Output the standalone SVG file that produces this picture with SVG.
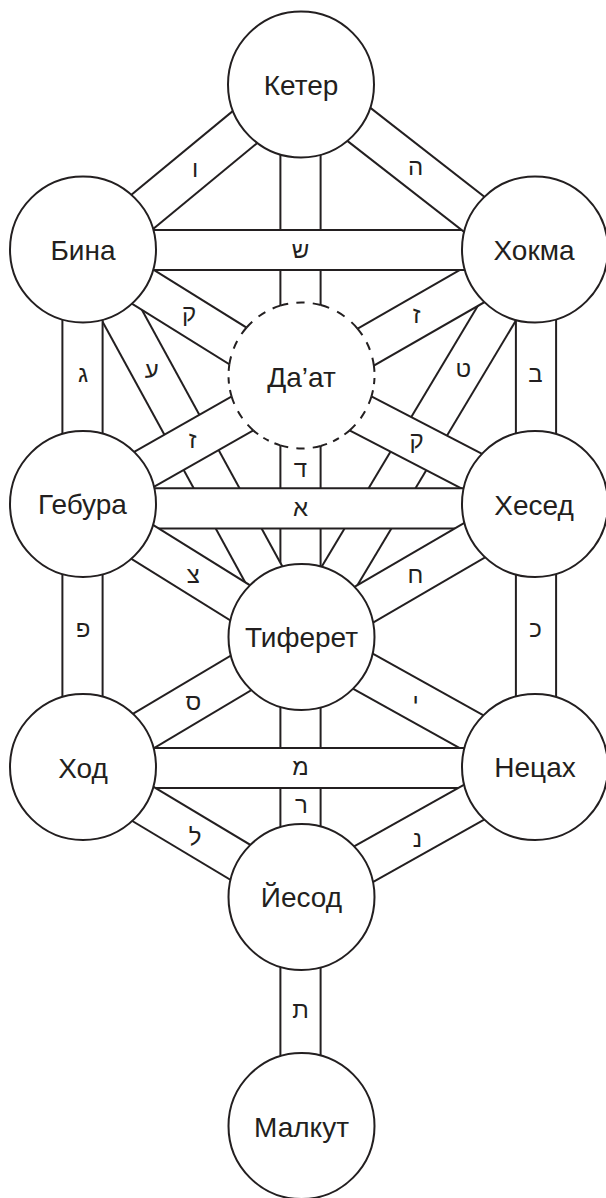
<svg xmlns="http://www.w3.org/2000/svg" width="606" height="1198" viewBox="0 0 606 1198">
<style>
.o{stroke:#231f20;stroke-width:42.2;fill:none}
.i{stroke:#ffffff;stroke-width:38.2;fill:none}
.node{fill:#ffffff;stroke:#231f20;stroke-width:2}
.nt{font-family:"Liberation Sans","DejaVu Sans",Arial,sans-serif;font-size:28px;fill:#231f20;text-anchor:middle}
.lt{font-family:"Liberation Sans","DejaVu Sans",Arial,sans-serif;font-size:24px;fill:#231f20;text-anchor:middle}
.dash{fill:none;stroke:#231f20;stroke-width:2;stroke-dasharray:1 1}
</style>
<rect width="606" height="1198" fill="#ffffff"/>
<g id="connectors">
  <g id="c-keter-tiferet"><line class="o" x1="300.5" y1="84" x2="300.5" y2="637"/><line class="i" x1="300.5" y1="84" x2="300.5" y2="637"/></g>
  <g id="c-bina-tiferet"><line class="o" x1="86" y1="249.5" x2="298" y2="637"/><line class="i" x1="86" y1="249.5" x2="298" y2="637"/></g>
  <g id="c-hokhma-tiferet"><line class="o" x1="535" y1="249.5" x2="303" y2="637"/><line class="i" x1="535" y1="249.5" x2="303" y2="637"/></g>
  <g id="c-bina-daat"><line class="o" x1="83" y1="249.5" x2="301.5" y2="385.5"/><line class="i" x1="83" y1="249.5" x2="301.5" y2="385.5"/></g>
  <g id="c-hokhma-daat"><line class="o" x1="535" y1="250" x2="301.5" y2="384"/><line class="i" x1="535" y1="250" x2="301.5" y2="384"/></g>
  <g id="c-geburah-daat"><line class="o" x1="83" y1="504" x2="301.5" y2="379.8"/><line class="i" x1="83" y1="504" x2="301.5" y2="379.8"/></g>
  <g id="c-chesed-daat"><line class="o" x1="535" y1="504" x2="301.5" y2="382.7"/><line class="i" x1="535" y1="504" x2="301.5" y2="382.7"/></g>
  <g id="c-bina-hokhma"><line class="o" x1="83" y1="250" x2="535" y2="250"/><line class="i" x1="83" y1="250" x2="535" y2="250"/></g>
  <g id="c-geburah-chesed"><line class="o" x1="83" y1="508.3" x2="535" y2="508.3"/><line class="i" x1="83" y1="508.3" x2="535" y2="508.3"/></g>
  <g id="c-geburah-tiferet"><line class="o" x1="83" y1="505" x2="301.5" y2="641"/><line class="i" x1="83" y1="505" x2="301.5" y2="641"/></g>
  <g id="c-chesed-tiferet"><line class="o" x1="535" y1="505" x2="301.5" y2="641"/><line class="i" x1="535" y1="505" x2="301.5" y2="641"/></g>
  <g id="c-bina-geburah"><line class="o" x1="82.5" y1="249.5" x2="82.5" y2="504"/><line class="i" x1="82.5" y1="249.5" x2="82.5" y2="504"/></g>
  <g id="c-hokhma-chesed"><line class="o" x1="536" y1="249.5" x2="536" y2="504"/><line class="i" x1="536" y1="249.5" x2="536" y2="504"/></g>
  <g id="c-geburah-hod"><line class="o" x1="82.5" y1="504" x2="82.5" y2="767"/><line class="i" x1="82.5" y1="504" x2="82.5" y2="767"/></g>
  <g id="c-chesed-netzach"><line class="o" x1="536" y1="504" x2="536" y2="767"/><line class="i" x1="536" y1="504" x2="536" y2="767"/></g>
  <g id="c-keter-bina"><line class="o" x1="100" y1="246.8" x2="285" y2="94"/><line class="i" x1="100" y1="246.8" x2="285" y2="94"/></g>
  <g id="c-keter-hokhma"><line class="o" x1="318" y1="92.5" x2="520" y2="250"/><line class="i" x1="318" y1="92.5" x2="520" y2="250"/></g>
  <g id="c-tiferet-yesod"><line class="o" x1="300.5" y1="637" x2="300.5" y2="897"/><line class="i" x1="300.5" y1="637" x2="300.5" y2="897"/></g>
  <g id="c-tiferet-hod"><line class="o" x1="301.5" y1="637" x2="83" y2="767"/><line class="i" x1="301.5" y1="637" x2="83" y2="767"/></g>
  <g id="c-tiferet-netzach"><line class="o" x1="301.5" y1="637" x2="535" y2="767"/><line class="i" x1="301.5" y1="637" x2="535" y2="767"/></g>
  <g id="c-hod-netzach"><line class="o" x1="83" y1="768" x2="535" y2="768"/><line class="i" x1="83" y1="768" x2="535" y2="768"/></g>
  <g id="c-hod-yesod"><line class="o" x1="83" y1="768" x2="301.5" y2="899"/><line class="i" x1="83" y1="768" x2="301.5" y2="899"/></g>
  <g id="c-netzach-yesod"><line class="o" x1="535" y1="768" x2="301.5" y2="899"/><line class="i" x1="535" y1="768" x2="301.5" y2="899"/></g>
  <g id="c-yesod-malkut"><line class="o" x1="300.5" y1="897" x2="300.5" y2="1126"/><line class="i" x1="300.5" y1="897" x2="300.5" y2="1126"/></g>
  <g id="connector-labels">
    <text class="lt" x="195" y="176.7">ו</text>
    <text class="lt" x="415.5" y="175">ה</text>
    <text class="lt" x="300.5" y="258">ש</text>
    <text class="lt" x="189" y="321">ק</text>
    <text class="lt" x="416.7" y="323">ז</text>
    <text class="lt" x="83" y="381.7">ג</text>
    <text class="lt" x="535.5" y="381.7">ב</text>
    <text class="lt" x="151.7" y="378">ע</text>
    <text class="lt" x="463.3" y="376.7">ט</text>
    <text class="lt" x="300.5" y="476.7">ד</text>
    <text class="lt" x="192.7" y="448">ז</text>
    <text class="lt" x="416.7" y="448">ק</text>
    <text class="lt" x="300.5" y="515.7">א</text>
    <text class="lt" x="193.3" y="583">צ</text>
    <text class="lt" x="415.5" y="583">ח</text>
    <text class="lt" x="83" y="636.7">פ</text>
    <text class="lt" x="535.5" y="636.7">כ</text>
    <text class="lt" x="193.3" y="710">ס</text>
    <text class="lt" x="415.5" y="710">י</text>
    <text class="lt" x="300.5" y="775">מ</text>
    <text class="lt" x="301.5" y="813">ר</text>
    <text class="lt" x="195.2" y="845">ל</text>
    <text class="lt" x="417.5" y="846.7">נ</text>
    <text class="lt" x="300.5" y="1018">ת</text>
  </g>
</g>
<g id="keter"><circle class="node" cx="301" cy="84.5" r="73"/><text class="nt" x="301" y="95">Кетер</text></g>
<g id="bina"><circle class="node" cx="83" cy="249.5" r="73"/><text class="nt" x="83" y="260">Бина</text></g>
<g id="hokhma"><circle class="node" cx="535" cy="249.5" r="73"/><text class="nt" x="534" y="260">Хокма</text></g>
<g id="daat">
  <circle cx="301.5" cy="375.5" r="73" fill="#ffffff"/>
  <path class="dash" pathLength="5" d="M371.49,396.20 A73,73 0 0 1 349.55,430.45"/>
  <path class="dash" pathLength="5" d="M349.55,430.45 A73,73 0 0 1 320.75,445.92"/>
  <path class="dash" pathLength="5" d="M320.75,445.92 A73,73 0 0 1 280.25,445.34"/>
  <path class="dash" pathLength="5" d="M280.25,445.34 A73,73 0 0 1 253.38,430.41"/>
  <path class="dash" pathLength="5" d="M253.38,430.41 A73,73 0 0 1 231.52,396.26"/>
  <path class="dash" pathLength="5" d="M231.52,396.26 A73,73 0 0 1 229.36,364.46"/>
  <path class="dash" pathLength="5" d="M229.36,364.46 A73,73 0 0 1 246.58,327.47"/>
  <path class="dash" pathLength="5" d="M246.58,327.47 A73,73 0 0 1 280.25,305.66"/>
  <path class="dash" pathLength="5" d="M280.25,305.66 A73,73 0 0 1 320.75,305.08"/>
  <path class="dash" pathLength="5" d="M320.75,305.08 A73,73 0 0 1 357.47,328.53"/>
  <path class="dash" pathLength="5" d="M357.47,328.53 A73,73 0 0 1 373.91,365.81"/>
  <path class="dash" pathLength="5" d="M373.91,365.81 A73,73 0 0 1 371.49,396.20"/>
  <text class="nt" x="301.5" y="386.5">Да’ат</text>
</g>
<g id="geburah"><circle class="node" cx="83" cy="504" r="73"/><text class="nt" x="82.5" y="513.5">Гебура</text></g>
<g id="chesed"><circle class="node" cx="535" cy="504" r="73"/><text class="nt" x="534" y="514.5">Хесед</text></g>
<g id="tiferet"><circle class="node" cx="301.5" cy="637" r="73"/><text class="nt" x="301.5" y="647">Тиферет</text></g>
<g id="hod"><circle class="node" cx="83" cy="767" r="73"/><text class="nt" x="83" y="777.5">Ход</text></g>
<g id="netzach"><circle class="node" cx="535" cy="767" r="73"/><text class="nt" x="535" y="777">Нецах</text></g>
<g id="yesod"><circle class="node" cx="301.5" cy="897" r="73"/><text class="nt" x="301.5" y="907">Йесод</text></g>
<g id="malkut"><circle class="node" cx="301.5" cy="1126" r="73"/><text class="nt" x="301.5" y="1136.5">Малкут</text></g>
</svg>
